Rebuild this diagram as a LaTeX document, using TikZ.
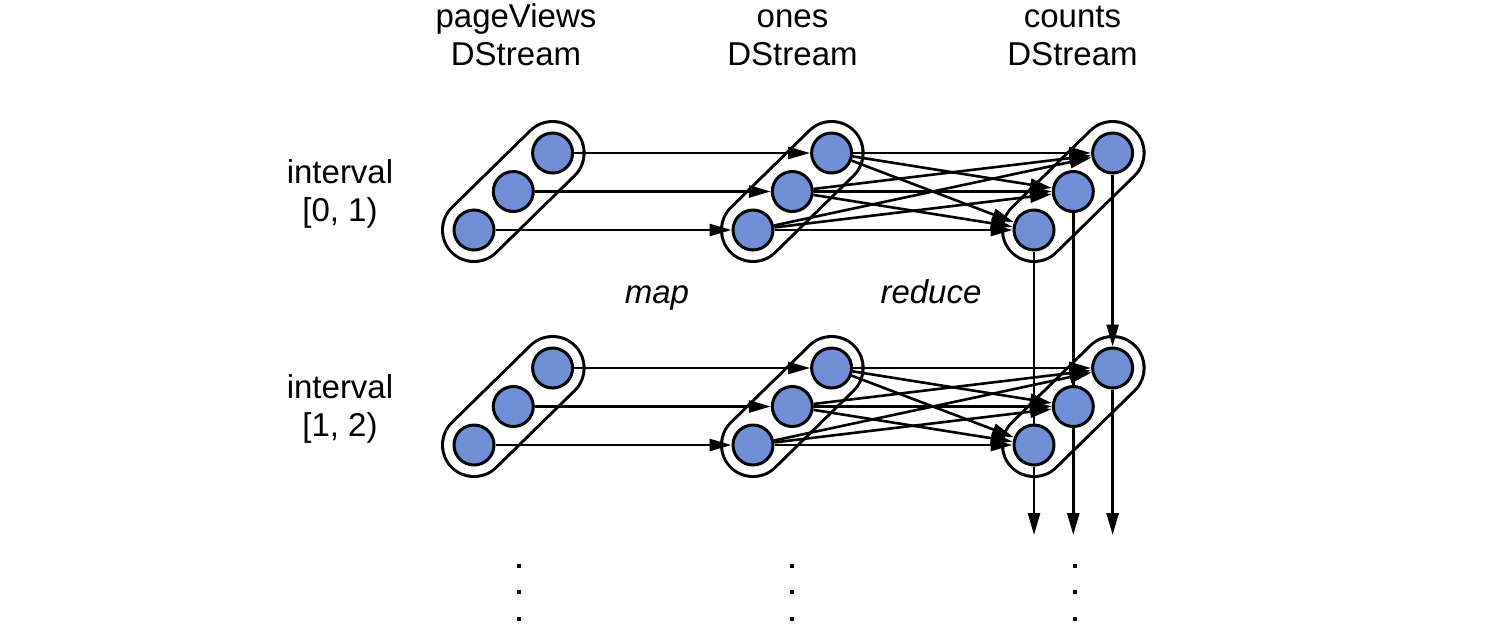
\documentclass[tikz,border=0pt]{standalone}
\usepackage{fontspec}
\setmainfont{Liberation Sans}
\usetikzlibrary{arrows.meta}
\definecolor{dotblue}{RGB}{112,143,214}
\begin{document}
\begin{tikzpicture}[x=1pt,y=-1pt,
  dot/.style={circle,draw,line width=3pt,fill=dotblue,minimum size=40pt,inner sep=0pt},
  flow/.style={line width=2.6pt,-{Triangle[length=22pt,width=12pt]}},
  link/.style={line width=2.6pt},
  lbl/.style={font=\fontsize{33}{38}\selectfont,align=center,inner sep=0pt},
  op/.style={font=\fontsize{33}{38}\selectfont\itshape,inner sep=0pt}]
\useasboundingbox (0,0) rectangle (1486,630);
% capsules
\foreach \x in {474,753,1034} \foreach \y in {230,445} {
  \draw[line width=66pt,line cap=round] (\x,\y) -- ++(78.6,-77);
  \draw[white,line width=60pt,line cap=round] (\x,\y) -- ++(78.6,-77);
}
% partition circles
\foreach \g/\x in {p/474,o/753,c/1034} \foreach \i/\y in {0/230,1/445} {
  \node[dot] (\g\i a) at (\x,\y) {};
  \node[dot] (\g\i b) at (\x+39.3,\y-38.5) {};
  \node[dot] (\g\i c) at (\x+78.6,\y-77) {};
}
% map
\foreach \i in {0,1} \foreach \r in {a,b,c} \draw[flow] (p\i\r) -- (o\i\r);
% reduce
\foreach \i in {0,1} \foreach \r in {a,b,c} \foreach \s in {a,b,c} \draw[flow] (o\i\r) -- (c\i\s);
% state between intervals
\draw[link] (c0a) -- (c1a);
\draw[link] (c0b) -- (c1b);
\draw[flow] (c0c) -- (c1c);
\coordinate (ea) at (1034,535);
\coordinate (eb) at (1073.3,535);
\coordinate (ec) at (1112.6,535);
\draw[flow] (c1a) -- (ea);
\draw[flow] (c1b) -- (eb);
\draw[flow] (c1c) -- (ec);
% labels (base = baseline of last line)
\node[lbl,anchor=base] (tp) at (516,65) {pageViews\\DStream};
\node[lbl,anchor=base] (to) at (792.5,65) {ones\\DStream};
\node[lbl,anchor=base] (tc) at (1072.5,65) {counts\\DStream};
\node[lbl,anchor=base] (i0) at (340,221) {interval\\{}[0, 1)};
\node[lbl,anchor=base] (i1) at (340,436) {interval\\{}[1, 2)};
\node[op,anchor=base] (mp) at (657,303) {map};
\node[op,anchor=base] (rd) at (931,303) {reduce};
% continuation dots
\foreach \x in {519,792,1075} \foreach \y in {566,592,619} \fill (\x-2,\y-2) rectangle ++(4,4);
\end{tikzpicture}
\end{document}
